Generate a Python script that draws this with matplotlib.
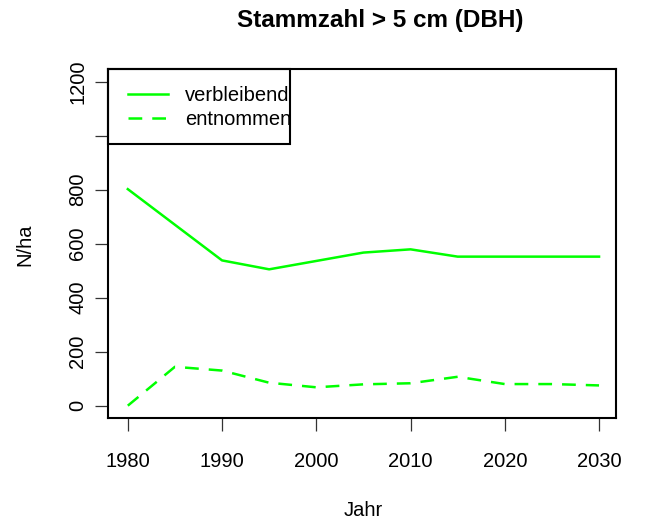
import matplotlib
matplotlib.use("Agg")
import matplotlib.pyplot as plt
from matplotlib.patches import Rectangle

# Werte
jahre = [1980, 1985, 1990, 1995, 2000, 2005, 2010, 2015, 2020, 2025, 2030]
verbleibend = [802, 670, 538, 505, 536, 567, 579, 552, 552, 552, 552]
entnommen = [0, 144, 130, 85, 68, 79, 83, 107, 80, 80, 75]

x_ticks = [1980, 1990, 2000, 2010, 2020, 2030]
y_ticks = [0, 200, 400, 600, 800, 1000, 1200]
y_labels = ["0", "200", "400", "600", "800", "", "1200"]

plt.rcParams["font.family"] = ["Liberation Sans", "DejaVu Sans"]

fig = plt.figure(figsize=(6.57, 5.23), dpi=100)
ax = fig.add_axes([0.1644, 0.2008, 0.7732, 0.6673])

gruen = "#00FF00"
ax.plot(jahre, verbleibend, color=gruen, linewidth=1.8, label="verbleibend")
ax.plot(jahre, entnommen, color=gruen, linewidth=1.8,
        linestyle=(0, (5.5, 4.0)), label="entnommen")

ax.set_xlim(1977.9, 2031.8)
ax.set_ylim(-45.6, 1247)
ax.set_xticks(x_ticks)
ax.set_yticks(y_ticks)
ax.set_yticklabels(y_labels, rotation=90, va="center")

ax.tick_params(axis="both", direction="out", length=9.5, width=0.9,
               color="#333333", labelsize=14.5)
ax.tick_params(axis="x", pad=15)
ax.tick_params(axis="y", pad=5.5)

for s in ax.spines.values():
    s.set_linewidth(1.5)
    s.set_color("black")

# Legende ohne eigenen Rahmen, Rahmen wie in R separat
leg = ax.legend(loc="upper left", bbox_to_anchor=(20 / 508, 0.952),
                borderaxespad=0, fontsize=14.5, frameon=False,
                handlelength=2.0, handletextpad=0.85, borderpad=0,
                labelspacing=0.25)
ax.add_patch(Rectangle((0, 0.785), 0.358, 0.215, transform=ax.transAxes,
                       fill=False, edgecolor="black", linewidth=1.5,
                       clip_on=False, zorder=5))

fig.text(380 / 657, 1 - 20 / 523, "Stammzahl > 5 cm (DBH)", ha="center",
         va="center", fontsize=17.5, fontweight="bold")
fig.text(363 / 657, 1 - 510 / 523, "Jahr", ha="center", va="center",
         fontsize=14.5)
fig.text(25 / 657, 1 - 245 / 523, "N/ha", ha="center", va="center",
         rotation=90, fontsize=14.5)

fig.savefig("out.png", dpi=100)
